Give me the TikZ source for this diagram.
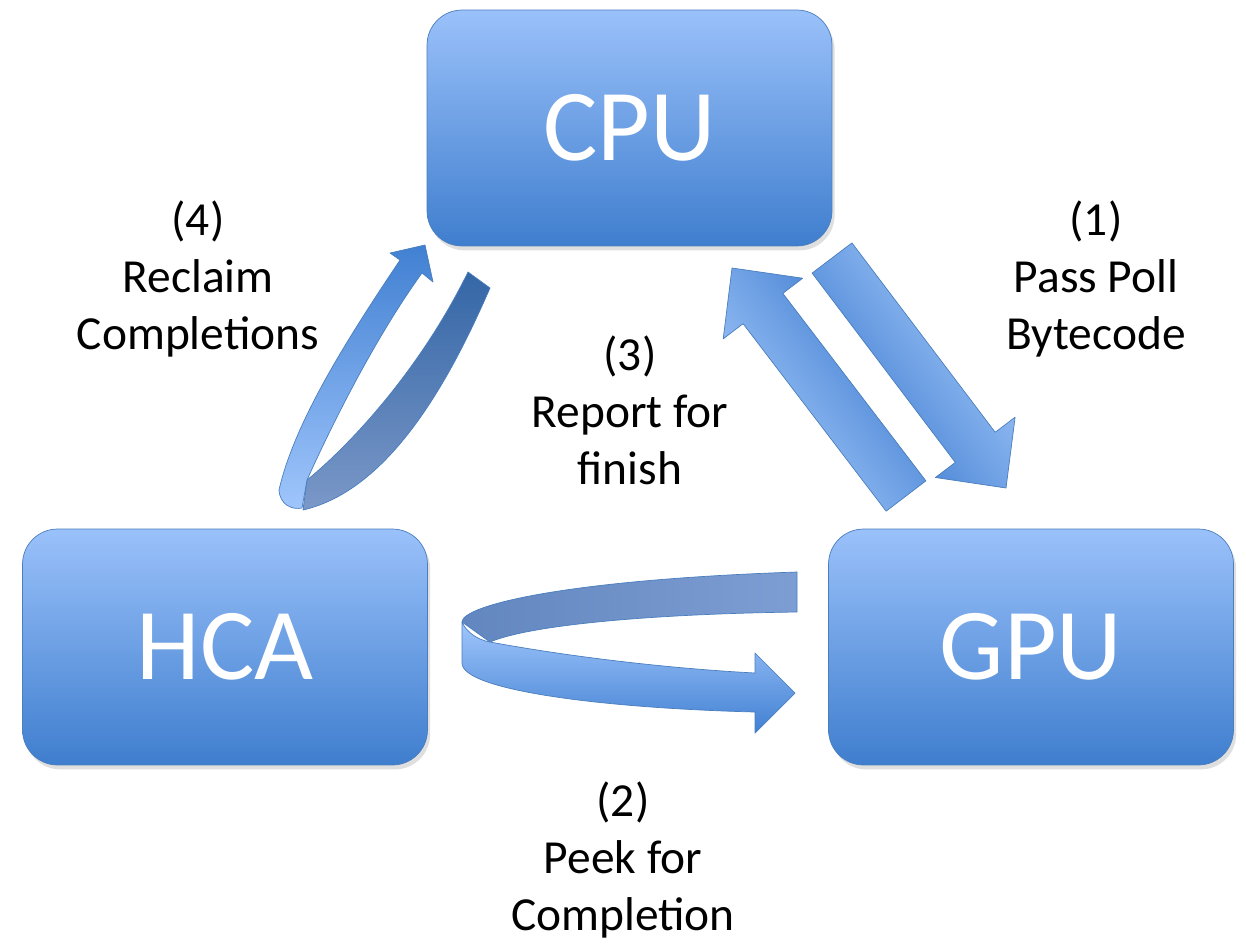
\documentclass[tikz,border=0pt]{standalone}
\usepackage{fontspec}
\setmainfont{Carlito}
\usepackage{xcolor}
\usetikzlibrary{calc,shadows}
\definecolor{boxTop}{HTML}{9AC1FA}
\definecolor{boxBot}{HTML}{3F7ECE}
\definecolor{boxLine}{HTML}{4A7EBD}
\definecolor{arrLight}{HTML}{ACD0FF}
\definecolor{arrDark}{HTML}{3574CB}
\definecolor{ribLight}{HTML}{A0C6FC}
\definecolor{ribDark}{HTML}{4180D2}
\definecolor{backDark}{HTML}{3466A6}
\definecolor{backLight}{HTML}{7B98C8}
\definecolor{backLeft}{HTML}{6286BF}
\definecolor{backRight}{HTML}{7D9ED3}

% straight block arrow from #2 to #3
\newcommand{\blockarrow}[3][]{%
  \path (#2) coordinate (ba-s) (#3) coordinate (ba-e)
    ($(ba-e)!1.02cm!(ba-s)$) coordinate (ba-h);
  \shade[#1] ($(ba-s)!0.5cm!90:(ba-e)$) -- ($(ba-h)!0.5cm!-90:(ba-s)$)
    -- ($(ba-h)!1cm!-90:(ba-s)$) -- (ba-e) -- ($(ba-h)!1cm!90:(ba-s)$)
    -- ($(ba-h)!0.5cm!90:(ba-s)$) -- ($(ba-s)!0.5cm!-90:(ba-e)$) -- cycle;
}

\begin{document}
\begin{tikzpicture}[x=0.02cm, y=-0.02cm,
  unit/.style={draw=boxLine, thin, rounded corners=0.7cm, minimum width=8.1cm,
    minimum height=4.72cm, top color=boxTop, bottom color=boxBot, text=white,
    font=\fontsize{58}{60}\selectfont,
    drop shadow={shadow xshift=1.5pt, shadow yshift=-2.5pt, opacity=0.25}},
  lbl/.style={align=center, font=\fontsize{27}{32.4}\selectfont},
  ribbon/.style={draw=boxLine, thin, line join=round}]
  \useasboundingbox (0,0) rectangle (1246,943);

  % the three units
  \node[unit] (cpu) at (629.5,128) {CPU};
  \node[unit] (hca) at (225,647) {HCA};
  \node[unit] (gpu) at (1031,647) {GPU};

  % step labels
  \node[lbl] (reclaim) at (198,279) {(4)\\Reclaim\\Completions};
  \node[lbl] (report) at (630,410) {(3)\\Report for\\finish};
  \node[lbl] (pass) at (1096,279) {(1)\\Pass Poll\\Bytecode};
  \node[lbl] (peek) at (623,860) {(2)\\Peek for\\Completion};

  % (1) and (3): CPU <-> GPU
  \coordinate (passTail) at (832,258);
  \coordinate (passTip) at (1006,488);
  \coordinate (reportTail) at (906,496);
  \coordinate (reportTip) at (732,268);
  \blockarrow[ribbon, top color=arrLight, bottom color=arrDark, shading angle=-53]{passTail}{passTip}
  \blockarrow[ribbon, top color=arrDark, bottom color=arrLight, shading angle=-53]{reportTail}{reportTip}

  % (4): loop from HCA up to CPU, back then front
  \shade[ribbon, top color=backDark, bottom color=backLight]
    (468,272) -- (490,288) .. controls (450,380) and (390,490) .. (303,510)
    -- (307,480) .. controls (350,445) and (420,370) .. (468,272) -- cycle;
  \shade[ribbon, top color=ribDark, bottom color=ribLight]
    (400,260) .. controls (350,335) and (295,420) .. (279,490)
    .. controls (280,505) and (292,510) .. (302,508)
    -- (307,480) .. controls (325,440) and (370,345) .. (422,273)
    -- (433,282) -- (425,245) -- (390,253) -- cycle;

  % (2): loop from GPU round to GPU, back then front
  \shade[ribbon, left color=backLeft, right color=backRight]
    (797,572) -- (797,612) .. controls (650,614) and (530,625) .. (490,642)
    -- (462,622) .. controls (462,606) and (560,580) .. (797,572) -- cycle;
  \shade[ribbon, top color=ribLight, bottom color=ribDark]
    (462,622) -- (462,663) .. controls (462,690) and (600,708) .. (755,712)
    -- (755,733) -- (795,693) -- (755,653) -- (755,673)
    .. controls (660,668) and (560,655) .. (490,642)
    .. controls (478,640) and (466,632) .. (462,622) -- cycle;
\end{tikzpicture}
\end{document}
